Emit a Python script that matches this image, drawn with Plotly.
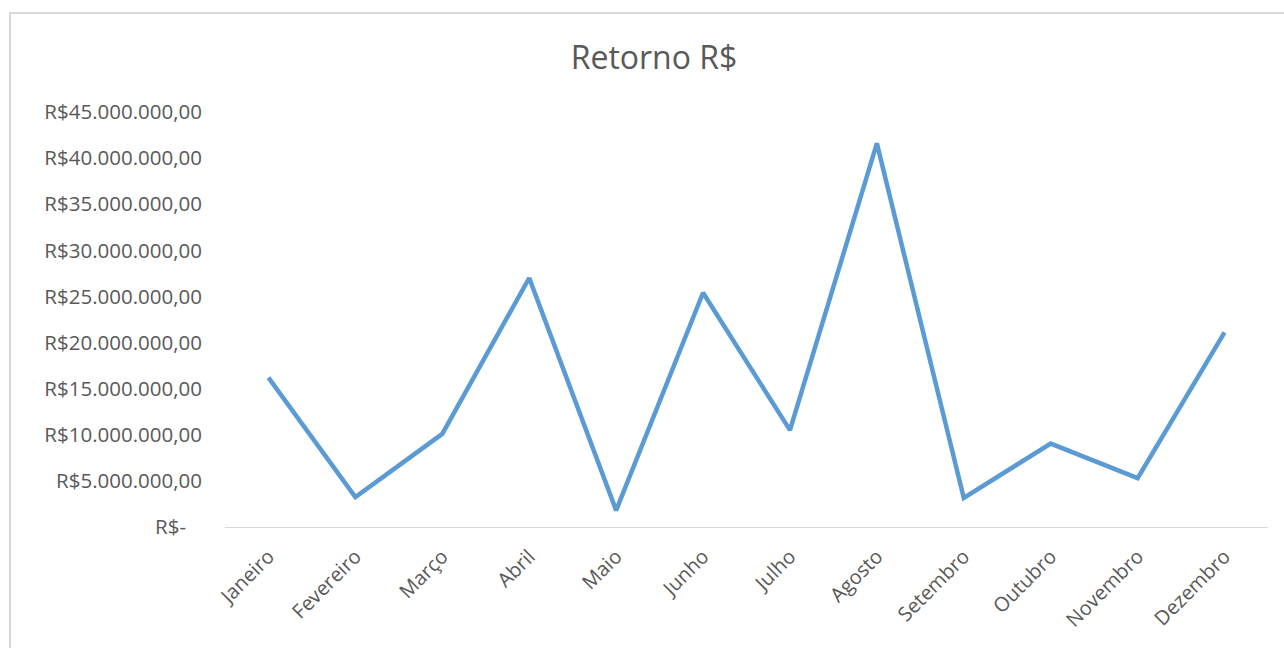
import plotly.graph_objects as go

meses = ["Janeiro", "Fevereiro", "Março", "Abril", "Maio", "Junho",
         "Julho", "Agosto", "Setembro", "Outubro", "Novembro", "Dezembro"]
retorno = [16.2e6, 3.25e6, 10.1e6, 27.0e6, 1.8e6, 25.4e6,
           10.5e6, 41.6e6, 3.15e6, 9.05e6, 5.3e6, 21.1e6]

tick_vals = [0, 5e6, 10e6, 15e6, 20e6, 25e6, 30e6, 35e6, 40e6, 45e6]
tick_text = ["R$-\u00a0\u00a0\u00a0", "R$5.000.000,00", "R$10.000.000,00", "R$15.000.000,00",
             "R$20.000.000,00", "R$25.000.000,00", "R$30.000.000,00",
             "R$35.000.000,00", "R$40.000.000,00", "R$45.000.000,00"]

W, H = 1284, 648
ML, MR, MT, MB = 225, 16, 112, 121
pw, ph = W - ML - MR, H - MT - MB

def px_x(x):
    return (x - ML) / pw

def px_y(y):
    return (H - MB - y) / ph

font_family = "Open Sans, Noto Sans, sans-serif"
grey = "#595959"

fig = go.Figure()
fig.add_trace(go.Scatter(
    x=meses, y=retorno, mode="lines",
    line=dict(color="#5b9bd5", width=4.5),
    hoverinfo="x+y",
))

fig.update_layout(
    width=W, height=H,
    margin=dict(l=ML, r=MR, t=MT, b=MB),
    paper_bgcolor="white", plot_bgcolor="white",
    showlegend=False,
    title=dict(text="Retorno R$", x=(570 + 738) / 2 / W, xanchor="center",
               y=1 - 58 / H, yanchor="middle",
               font=dict(family=font_family, size=32, color=grey)),
    font=dict(family=font_family, color=grey),
    xaxis=dict(
        type="category", showgrid=False, zeroline=False,
        showline=True, linecolor="#d9d9d9", linewidth=1,
        ticks="", tickangle=-45, tickfont=dict(size=20, color=grey),
        range=[-0.5, 11.5], ticklabelstandoff=9,
    ),
    yaxis=dict(
        range=[0, 45e6], showgrid=False, zeroline=False, showline=False,
        tickvals=tick_vals, ticktext=tick_text, ticks="",
        tickfont=dict(size=20.5, color=grey), ticklabelstandoff=22,
    ),
    shapes=[dict(
        type="rect", xref="paper", yref="paper",
        x0=px_x(10), x1=px_x(W + 20), y0=px_y(H + 20), y1=px_y(13),
        line=dict(color="#d9d9d9", width=2), fillcolor="rgba(0,0,0,0)",
        layer="below",
    )],
)

fig.write_html("out.html")
